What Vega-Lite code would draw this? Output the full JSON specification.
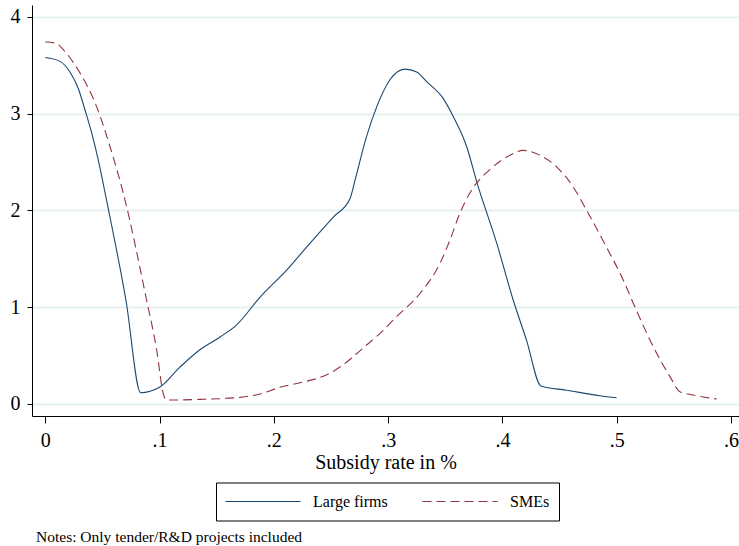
{
  "$schema": "https://vega.github.io/schema/vega-lite/v6.json",
  "width": 707,
  "height": 411,
  "autosize": {"type": "none"},
  "padding": {"left": 32, "top": 5, "right": 0, "bottom": 130},
  "background": "white",
  "title": {"text": "Notes: Only tender/R&D projects included", "orient": "bottom", "anchor": "start", "frame": "group", "font": "Times New Roman, Liberation Serif, serif", "fontSize": 15.5, "fontWeight": "normal", "color": "black", "offset": 9, "dx": 4},
  "config": {
    "view": {"stroke": null},
    "font": "Times New Roman, Liberation Serif, serif",
    "legend": {"strokeWidth": 1}
  },
  "data": {"values": [
    {"s": "Large firms", "x": 0, "y": 3.58},
    {"s": "Large firms", "x": 0.0129, "y": 3.54},
    {"s": "Large firms", "x": 0.0216, "y": 3.43},
    {"s": "Large firms", "x": 0.0289, "y": 3.26},
    {"s": "Large firms", "x": 0.0347, "y": 3.04},
    {"s": "Large firms", "x": 0.0406, "y": 2.80},
    {"s": "Large firms", "x": 0.0464, "y": 2.52},
    {"s": "Large firms", "x": 0.0537, "y": 2.10},
    {"s": "Large firms", "x": 0.0706, "y": 1.07},
    {"s": "Large firms", "x": 0.0835, "y": 0.114},
    {"s": "Large firms", "x": 0.1, "y": 0.17},
    {"s": "Large firms", "x": 0.118, "y": 0.38},
    {"s": "Large firms", "x": 0.135, "y": 0.555},
    {"s": "Large firms", "x": 0.153, "y": 0.69},
    {"s": "Large firms", "x": 0.167, "y": 0.81},
    {"s": "Large firms", "x": 0.1878, "y": 1.10},
    {"s": "Large firms", "x": 0.2126, "y": 1.40},
    {"s": "Large firms", "x": 0.2287, "y": 1.62},
    {"s": "Large firms", "x": 0.252, "y": 1.93},
    {"s": "Large firms", "x": 0.2666, "y": 2.12},
    {"s": "Large firms", "x": 0.271, "y": 2.31},
    {"s": "Large firms", "x": 0.281, "y": 2.76},
    {"s": "Large firms", "x": 0.29, "y": 3.07},
    {"s": "Large firms", "x": 0.3016, "y": 3.35},
    {"s": "Large firms", "x": 0.3147, "y": 3.46},
    {"s": "Large firms", "x": 0.325, "y": 3.43},
    {"s": "Large firms", "x": 0.3337, "y": 3.33},
    {"s": "Large firms", "x": 0.348, "y": 3.16},
    {"s": "Large firms", "x": 0.357, "y": 2.97},
    {"s": "Large firms", "x": 0.3687, "y": 2.66},
    {"s": "Large firms", "x": 0.3774, "y": 2.30},
    {"s": "Large firms", "x": 0.395, "y": 1.66},
    {"s": "Large firms", "x": 0.4095, "y": 1.07},
    {"s": "Large firms", "x": 0.421, "y": 0.66},
    {"s": "Large firms", "x": 0.4337, "y": 0.183},
    {"s": "Large firms", "x": 0.456, "y": 0.14},
    {"s": "Large firms", "x": 0.4853, "y": 0.083},
    {"s": "Large firms", "x": 0.4999, "y": 0.062},
    {"s": "SMEs", "x": 0, "y": 3.74},
    {"s": "SMEs", "x": 0.0085, "y": 3.73},
    {"s": "SMEs", "x": 0.0187, "y": 3.62},
    {"s": "SMEs", "x": 0.0304, "y": 3.42},
    {"s": "SMEs", "x": 0.045, "y": 3.07},
    {"s": "SMEs", "x": 0.0566, "y": 2.66},
    {"s": "SMEs", "x": 0.0682, "y": 2.18},
    {"s": "SMEs", "x": 0.0887, "y": 1.07},
    {"s": "SMEs", "x": 0.0975, "y": 0.555},
    {"s": "SMEs", "x": 0.1032, "y": 0.107},
    {"s": "SMEs", "x": 0.106, "y": 0.038},
    {"s": "SMEs", "x": 0.135, "y": 0.045},
    {"s": "SMEs", "x": 0.159, "y": 0.056},
    {"s": "SMEs", "x": 0.1703, "y": 0.066},
    {"s": "SMEs", "x": 0.1878, "y": 0.10},
    {"s": "SMEs", "x": 0.2053, "y": 0.17},
    {"s": "SMEs", "x": 0.2228, "y": 0.217},
    {"s": "SMEs", "x": 0.2374, "y": 0.26},
    {"s": "SMEs", "x": 0.2476, "y": 0.307},
    {"s": "SMEs", "x": 0.2578, "y": 0.38},
    {"s": "SMEs", "x": 0.2695, "y": 0.486},
    {"s": "SMEs", "x": 0.2812, "y": 0.607},
    {"s": "SMEs", "x": 0.293, "y": 0.728},
    {"s": "SMEs", "x": 0.3074, "y": 0.90},
    {"s": "SMEs", "x": 0.3278, "y": 1.14},
    {"s": "SMEs", "x": 0.3453, "y": 1.45},
    {"s": "SMEs", "x": 0.354, "y": 1.69},
    {"s": "SMEs", "x": 0.3628, "y": 1.97},
    {"s": "SMEs", "x": 0.3715, "y": 2.18},
    {"s": "SMEs", "x": 0.389, "y": 2.42},
    {"s": "SMEs", "x": 0.4066, "y": 2.57},
    {"s": "SMEs", "x": 0.418, "y": 2.62},
    {"s": "SMEs", "x": 0.4328, "y": 2.57},
    {"s": "SMEs", "x": 0.4474, "y": 2.45},
    {"s": "SMEs", "x": 0.462, "y": 2.24},
    {"s": "SMEs", "x": 0.4737, "y": 2.0},
    {"s": "SMEs", "x": 0.491, "y": 1.62},
    {"s": "SMEs", "x": 0.5057, "y": 1.28},
    {"s": "SMEs", "x": 0.517, "y": 0.97},
    {"s": "SMEs", "x": 0.532, "y": 0.59},
    {"s": "SMEs", "x": 0.5466, "y": 0.28},
    {"s": "SMEs", "x": 0.5553, "y": 0.124},
    {"s": "SMEs", "x": 0.567, "y": 0.09},
    {"s": "SMEs", "x": 0.5874, "y": 0.049}
  ]},
  "encoding": {
    "x": {
      "field": "x", "type": "quantitative",
      "scale": {"domain": [-0.0116, 0.607], "nice": false, "zero": false},
      "axis": {
        "values": [0, 0.1, 0.2, 0.3, 0.4, 0.5, 0.6],
        "labelExpr": "datum.value == 0 ? '0' : replace(format(datum.value, '.1f'), '0.', '.')",
        "grid": false,
        "domainColor": "black", "domainWidth": 1,
        "tickColor": "black", "tickSize": 7, "tickWidth": 1,
        "labelFont": "Times New Roman, Liberation Serif, serif", "labelFontSize": 20, "labelColor": "black", "labelPadding": 7,
        "title": "Subsidy rate in %",
        "titleFont": "Times New Roman, Liberation Serif, serif", "titleFontSize": 20, "titleFontWeight": "normal", "titleColor": "black", "titlePadding": 2
      }
    },
    "y": {
      "field": "y", "type": "quantitative",
      "scale": {"domain": [-0.127, 4.123], "nice": false, "zero": false},
      "axis": {
        "values": [0, 1, 2, 3, 4],
        "grid": true, "gridColor": "#e6eff1", "gridWidth": 2,
        "domainColor": "black", "domainWidth": 1,
        "tickColor": "black", "tickSize": 5, "tickWidth": 1,
        "labelFont": "Times New Roman, Liberation Serif, serif", "labelFontSize": 20, "labelColor": "black", "labelPadding": 7,
        "title": null
      }
    },
    "color": {
      "field": "s", "type": "nominal",
      "scale": {"domain": ["Large firms", "SMEs"], "range": ["#1a476f", "#90353b"]},
      "legend": {
        "title": null, "orient": "none", "direction": "horizontal",
        "legendX": 184, "legendY": 477.5,
        "strokeColor": "black", "fillColor": "white",
        "padding": 9, "clipHeight": 20,
        "symbolType": "stroke", "symbolSize": 5625, "symbolStrokeWidth": 1,
        "labelFont": "Times New Roman, Liberation Serif, serif", "labelFontSize": 16, "labelColor": "black", "labelOffset": 12,
        "columnPadding": 34,
        "encode": {"symbols": {"update": {"strokeDash": {"signal": "datum.value == 'SMEs' ? [9, 5] : null"}}}}
      }
    }
  },
  "layer": [
    {
      "transform": [{"filter": "datum.s == 'Large firms'"}],
      "mark": {"type": "line", "strokeWidth": 1.1, "interpolate": "monotone"}
    },
    {
      "transform": [{"filter": "datum.s == 'SMEs'"}],
      "mark": {"type": "line", "strokeWidth": 1.1, "strokeDash": [9, 5], "interpolate": "monotone"}
    }
  ]
}
